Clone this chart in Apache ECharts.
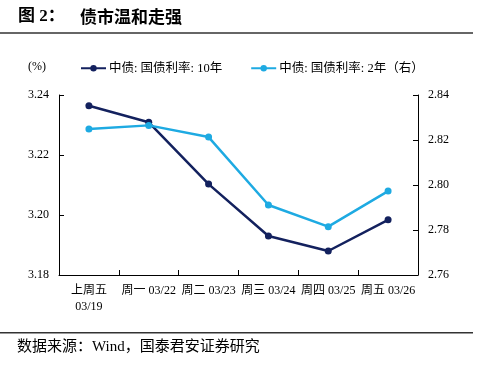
<!DOCTYPE html>
<html><head><meta charset="utf-8">
<script src="https://cdn.jsdelivr.net/npm/echarts@6/dist/echarts.min.js"></script>
<style>html,body{margin:0;padding:0;background:#fff}#c{width:499px;height:369px}</style>
</head><body><div id="c"></div>
<script>
const categories = ['上周五\n03/19', '周一 03/22', '周二 03/23', '周三 03/24', '周四 03/25', '周五 03/26'];
const yield10y = [3.2364, 3.2309, 3.2103, 3.1930, 3.1880, 3.1984];
const yield2y = [2.8249, 2.8265, 2.8213, 2.7911, 2.7815, 2.7973];
const seriesNames = ['中债: 国债利率: 10年', '中债: 国债利率: 2年（右）'];
const titleLabel = '图 2：';
const titleText = '债市温和走强';
const sourceText = '数据来源：Wind，国泰君安证券研究';

const font = '"Liberation Serif", "Noto Sans CJK SC", serif';
const chart = echarts.init(document.getElementById('c'), null, {renderer: 'canvas'});
const axisCommon = {
  axisLine: {show: true, lineStyle: {color: '#000', width: 1}},
  axisTick: {show: true, inside: true, length: 5, lineStyle: {color: '#000'}},
  splitLine: {show: false},
  axisLabel: {color: '#000', fontSize: 12, fontFamily: font, margin: 10, formatter: v => v.toFixed(2)}
};
chart.setOption({
  animation: false,
  textStyle: {fontFamily: font},
  graphic: [
    {type: 'text', left: 18, top: 8, style: {text: titleLabel, font: 'bold 17px "Liberation Serif", "Noto Sans CJK SC"', fill: '#000'}},
    {type: 'text', left: 80, top: 8, style: {text: titleText, font: 'bold 17px "Noto Sans CJK SC"', fill: '#000'}},
    {type: 'rect', shape: {x: 0, y: 32, width: 473, height: 2}, style: {fill: '#666'}},
    {type: 'rect', shape: {x: 0, y: 332, width: 473, height: 1.5}, style: {fill: '#333'}},
    {type: 'text', left: 17, top: 340, style: {text: sourceText, font: '15px "Liberation Serif", "Noto Sans CJK SC"', fill: '#000'}},
    {type: 'text', left: 28, top: 61, style: {text: '(%)', font: '12px "Liberation Serif"', fill: '#000'}}
  ],
  legend: {
    top: 62, left: 80, padding: 0, itemGap: 28, itemWidth: 25, itemHeight: 8,
    textStyle: {fontSize: 12.5, color: '#000', fontFamily: font, padding: [0, 0, 0, -2]},
    data: seriesNames
  },
  grid: {left: 59, right: 81, top: 95, bottom: 94},
  xAxis: {
    type: 'category', data: categories, boundaryGap: true,
    axisLine: {lineStyle: {color: '#000'}},
    axisTick: {show: true, inside: true, length: 5, lineStyle: {color: '#000'}},
    axisLabel: {color: '#000', fontSize: 12, fontFamily: font, interval: 0, margin: 8, lineHeight: 16}
  },
  yAxis: [
    Object.assign({type: 'value', min: 3.18, max: 3.24, interval: 0.02, position: 'left'}, axisCommon),
    Object.assign({type: 'value', min: 2.76, max: 2.84, interval: 0.02, position: 'right'}, axisCommon)
  ],
  series: [
    {name: seriesNames[0], type: 'line', yAxisIndex: 0, data: yield10y,
     symbol: 'circle', symbolSize: 7, lineStyle: {width: 2.5, color: '#13215e'}, itemStyle: {color: '#13215e'}},
    {name: seriesNames[1], type: 'line', yAxisIndex: 1, data: yield2y,
     symbol: 'circle', symbolSize: 7, lineStyle: {width: 2.5, color: '#1eaae2'}, itemStyle: {color: '#1eaae2'}}
  ]
});
</script></body></html>
